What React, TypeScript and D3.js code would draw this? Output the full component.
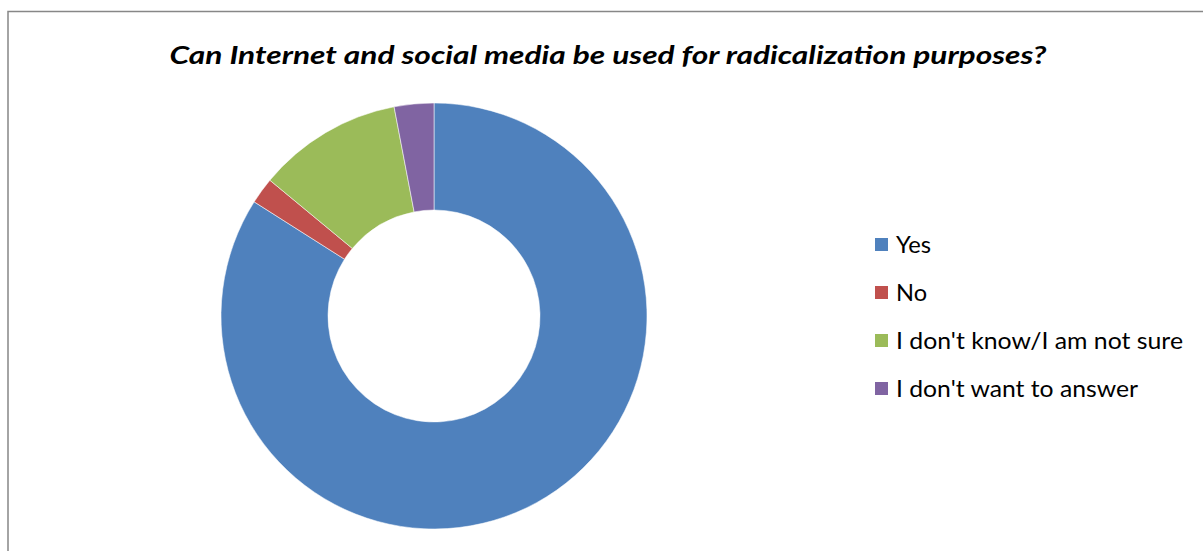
import React from "react";
import * as d3 from "d3";

const categories = ["Yes", "No", "I don't know/I am not sure", "I don't want to answer"];
const values = [84, 2, 11, 3];
const colors = ["#4F81BD", "#C0504D", "#9BBB59", "#8064A2"];
const title = "Can Internet and social media be used for radicalization purposes?";

export default function App() {
  const W = 1203, H = 551;
  const cx = 434, cy = 316, R = 213, r = 106;
  const pie = d3.pie<number>().sort(null).value((d) => d)(values);
  const arc = d3.arc<d3.PieArcDatum<number>>().innerRadius(r).outerRadius(R);
  const legendY = d3.scalePoint<string>().domain(categories).range([245, 389]);
  const legendWidths = [35, 31, 287, 242];
  return (
    <div style={{ position: "absolute", left: 0, top: 0 }}>
      <svg width={W} height={H} style={{ display: "block" }}>
        <rect x={0} y={0} width={W} height={H} fill="#fff" />
        <rect x={8} y={11.5} width={W + 20} height={H + 20} fill="#fff" stroke="#878787" strokeWidth={1.5} />
        <text
          x={608}
          y={64}
          textAnchor="middle"
          fontFamily="Lato, 'Open Sans', sans-serif"
          fontWeight="bold"
          fontStyle="italic"
          fontSize={25.5}
          textLength={877}
          lengthAdjust="spacingAndGlyphs"
          fill="#000"
        >
          {title}
        </text>
        <g transform={`translate(${cx},${cy})`}>
          {pie.map((p, i) => (
            <path key={i} d={arc(p) || ""} fill={colors[i]} stroke="#fff" strokeWidth={0.75} strokeOpacity={0.7} />
          ))}
        </g>
        {categories.map((c, i) => (
          <g key={c} transform={`translate(0,${legendY(c)})`}>
            <rect x={875} y={-7} width={13} height={13} fill={colors[i]} />
            <text
              x={896}
              y={7.5}
              fontFamily="Lato, 'Open Sans', sans-serif"
              fontSize={22.5}
              fill="#000"
              textLength={legendWidths[i]}
              lengthAdjust="spacingAndGlyphs"
            >
              {c}
            </text>
          </g>
        ))}
      </svg>
    </div>
  );
}
